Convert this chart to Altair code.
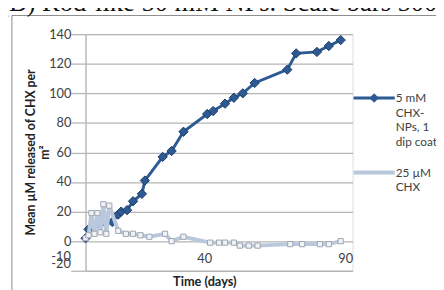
import altair as alt
import pandas as pd

# Data
np_days = [0, 1, 9, 11, 12, 14, 16, 19, 20, 26, 29, 33, 41, 43, 47, 50, 53, 57, 68, 71, 78, 82, 86]
np_vals = [2, 8, 13, 18, 20, 21, 27, 32, 41, 57, 61, 74, 86, 88, 93, 97, 100, 107, 116, 127, 128, 132, 136]

chx_days = [0, 1, 2, 3, 4, 5, 6, 7, 8, 11, 13.6, 16, 18.5, 21.5, 26.8, 29, 33, 42, 45, 47, 50, 52, 55, 58, 69, 73, 79, 82, 86]
chx_vals = [2, 4, 19, 5, 19, 6, 25, 5, 24, 7, 5, 5, 4, 3, 5, 0, 3, -1, -1, -1, -1, -3, -3, -3, -2, -2, -2, -2, 0]

y_ticks = [-20, 0, 20, 40, 60, 80, 100, 120, 140]
x_ticks = [40, 90]

series_np = "5 mM CHX-NPs, 1 dip coat"
series_chx = "25 µM CHX"

df_np = pd.DataFrame({"day": np_days, "val": np_vals})
df_chx = pd.DataFrame({"day": chx_days, "val": chx_vals})

W, H = 272, 241
FONT = "Lato"
DARK = "#2d5a93"
LIGHT = "#b9c8dc"
GRID = "#b5b5b5"
TXT = "#404040"

xscale = alt.Scale(domain=[0, 90], nice=False)
yscale = alt.Scale(domain=[-20, 140], nice=False)

xaxis = alt.Axis(values=x_ticks, title="Time (days)", grid=False, domain=False, ticks=False,
                 offset=-30, labelPadding=12, labelFontSize=13, labelColor=TXT, labelFont=FONT,
                 labelOverlap=False,
                 titleFont=FONT, titleFontSize=13, titleFontWeight="bold", titleColor="#222222",
                 titlePadding=10, titleX=121)
yaxis = alt.Axis(values=y_ticks, title=["Mean µM released of CHX per", "m²"], grid=True, gridColor=GRID,
                 gridWidth=1.3, domain=True, domainColor=GRID, domainWidth=1.3,
                 ticks=True, tickSize=15, tickColor=GRID, tickWidth=1.3, labelPadding=0,
                 labelOverlap=False, labelBound=False, labelFlush=False,
                 labelExpr="datum.value == -20 ? '' : datum.label",
                 labelFontSize=13, labelColor=TXT, labelFont=FONT,
                 titleFont=FONT, titleFontSize=12.5, titleFontWeight="bold", titleColor="#222222",
                 titleAngle=-90, titleX=-56, titleY=120, titleBaseline="middle", titleAlign="center")

X = lambda f: alt.X(f, scale=xscale, axis=xaxis)
Y = lambda f: alt.Y(f, scale=yscale, axis=yaxis)

base_np = alt.Chart(df_np)
base_chx = alt.Chart(df_chx)

line_np = base_np.mark_line(color=DARK, strokeWidth=3).encode(x=X("day:Q"), y=Y("val:Q"))
pts_np = base_np.mark_point(shape="diamond", filled=True, size=90, color=DARK,
                            stroke="#1d3c66", strokeWidth=1, opacity=1).encode(
    x=X("day:Q"), y=Y("val:Q"))

line_chx = base_chx.mark_line(color=LIGHT, strokeWidth=4).encode(x=X("day:Q"), y=Y("val:Q"))
pts_chx = base_chx.mark_point(shape="square", filled=True, size=28, color="#f2f2f2",
                              stroke="#9aa4b2", strokeWidth=1, opacity=1).encode(
    x=X("day:Q"), y=Y("val:Q"))

# extra overlapping labels at the bottom of the y axis
lab_df = pd.DataFrame({"val": [-11, -15.5], "t": ["-10", "-20"]})
neg_labels = alt.Chart(lab_df).mark_text(align="right", baseline="middle", font=FONT, fontSize=13,
                                         color=TXT).encode(
    x=alt.value(-15), y=Y("val:Q"), text="t:N")

# chart area border
border = alt.Chart(pd.DataFrame({"a": [0]})).mark_rect(fill=None, stroke="#8c8c8c", strokeWidth=1).encode(
    x=alt.value(-75), x2=alt.value(420), y=alt.value(-19), y2=alt.value(300))

# top caption (mostly cut off)
cap = alt.Chart(pd.DataFrame({"t": ["(B) Rod-like 50 mM NPs. Scale bars 500 nm"]})).mark_text(
    align="left", baseline="alphabetic", font="Liberation Serif", fontSize=27, color="#111111").encode(
    x=alt.value(-87), y=alt.value(-24), text="t:N")

# legend
leg_df = pd.DataFrame({"name": [series_np, series_chx]})
leg_line_np = alt.Chart(leg_df).transform_filter(alt.datum.name == series_np).mark_rule(
    color=DARK, strokeWidth=3).encode(x=alt.value(273), x2=alt.value(315), y=alt.value(65))
leg_pt_np = alt.Chart(leg_df).transform_filter(alt.datum.name == series_np).mark_point(
    shape="diamond", filled=True, size=90, color=DARK, opacity=1).encode(x=alt.value(294), y=alt.value(65))
leg_txt_np = alt.Chart(leg_df).transform_filter(alt.datum.name == series_np).mark_text(
    align="left", baseline="middle", font=FONT, fontSize=12, color=TXT, lineHeight=15).encode(
    x=alt.value(316), y=alt.value(65), text=alt.value(["5 mM", "CHX-", "NPs, 1", "dip coat"]))
leg_line_chx = alt.Chart(leg_df).transform_filter(alt.datum.name == series_chx).mark_rule(
    color=LIGHT, strokeWidth=4).encode(x=alt.value(273), x2=alt.value(315), y=alt.value(141))
leg_txt_chx = alt.Chart(leg_df).transform_filter(alt.datum.name == series_chx).mark_text(
    align="left", baseline="middle", font=FONT, fontSize=12, color=TXT, lineHeight=15).encode(
    x=alt.value(316), y=alt.value(141), text=alt.value(["25 µM", "CHX"]))

chart = alt.layer(
    border, cap, line_np, pts_np, line_chx, pts_chx, neg_labels,
    leg_line_np, leg_pt_np, leg_txt_np, leg_line_chx, leg_txt_chx
).properties(
    width=W, height=H,
    autosize=alt.AutoSizeParams(type="none"),
    padding={"left": 79, "top": 24, "right": 85, "bottom": 20},
).configure_view(strokeWidth=0).configure(background="white")

chart.save("out.html", embed_options={"renderer": "svg", "actions": False})
